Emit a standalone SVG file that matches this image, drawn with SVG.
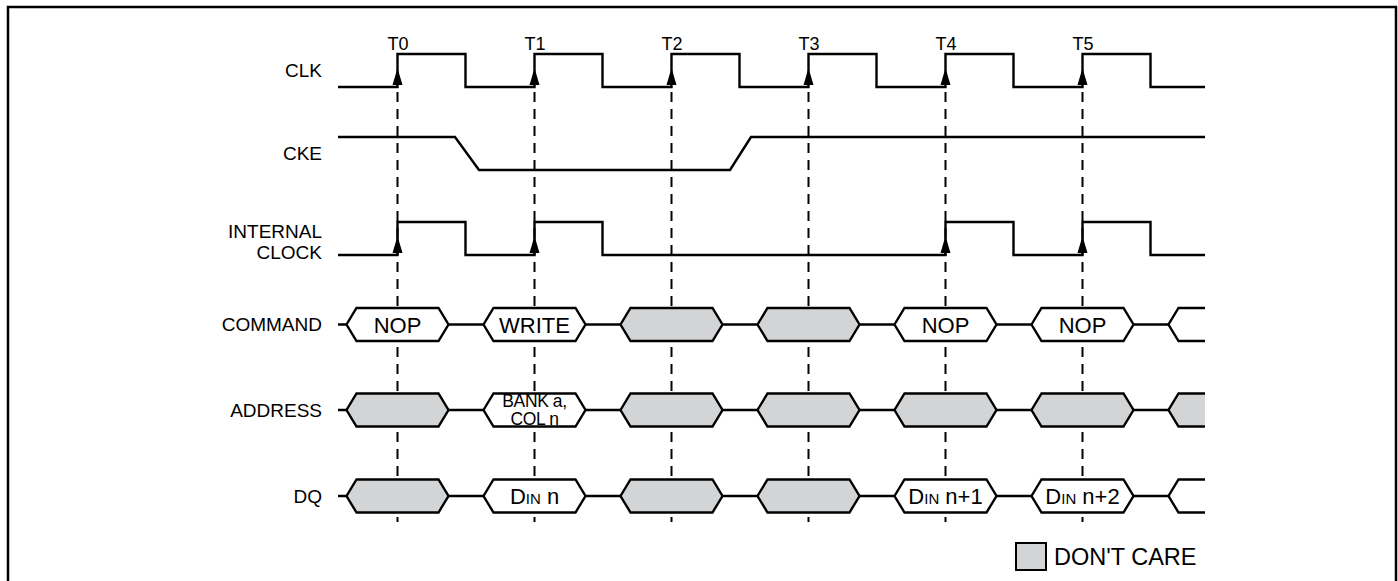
<svg xmlns="http://www.w3.org/2000/svg" width="1398" height="581" viewBox="0 0 1398 581">
<style>
.sig{fill:none;stroke:#000;stroke-width:2.4;stroke-linejoin:miter}
.dash{fill:none;stroke:#000;stroke-width:2;stroke-dasharray:10 7}
.hw{fill:#fff;stroke:#000;stroke-width:2.4;stroke-linejoin:miter}
.hg{fill:#d3d4d6;stroke:#000;stroke-width:2.4;stroke-linejoin:miter}
.lbl{font-family:"Liberation Sans",Arial,sans-serif;font-size:19px;fill:#000;text-anchor:end}
.tl{font-family:"Liberation Sans",Arial,sans-serif;font-size:18px;fill:#000;text-anchor:middle}
.bt{font-family:"Liberation Sans",Arial,sans-serif;font-size:22px;fill:#000;text-anchor:middle}
.sm{font-family:"Liberation Sans",Arial,sans-serif;font-size:17.5px;fill:#000;text-anchor:middle;letter-spacing:-0.4px}
.arr{fill:#000}
</style>
<defs>
<polygon id="hex" points="-51,0 -41,-16.5 41,-16.5 51,0 41,16.5 -41,16.5"/>
<polygon id="up" points="0,68 -5,85 5,85"/>
</defs>
<rect x="8" y="7" width="1388" height="600" fill="#fff" stroke="#000" stroke-width="2.5"/>

<g id="timing-lines">
<line class="dash" x1="397.5" y1="92" x2="397.5" y2="522"/>
<line class="dash" x1="534.5" y1="92" x2="534.5" y2="522"/>
<line class="dash" x1="671.5" y1="92" x2="671.5" y2="522"/>
<line class="dash" x1="808.5" y1="92" x2="808.5" y2="522"/>
<line class="dash" x1="945.5" y1="92" x2="945.5" y2="522"/>
<line class="dash" x1="1082.5" y1="92" x2="1082.5" y2="522"/>
</g>

<g id="clk">
<text class="lbl" x="322" y="77">CLK</text>
<path class="sig" d="M338,87 H397.5 V54 H465.5 V87 H534.5 V54 H602.5 V87 H671.5 V54 H739.5 V87 H808.5 V54 H876.5 V87 H945.5 V54 H1013.5 V87 H1082.5 V54 H1150.5 V87 H1205"/>
<use href="#up" class="arr" x="397.5"/>
<use href="#up" class="arr" x="534.5"/>
<use href="#up" class="arr" x="671.5"/>
<use href="#up" class="arr" x="808.5"/>
<use href="#up" class="arr" x="945.5"/>
<use href="#up" class="arr" x="1082.5"/>
<text class="tl" x="398" y="50">T0</text>
<text class="tl" x="535" y="50">T1</text>
<text class="tl" x="672" y="50">T2</text>
<text class="tl" x="809" y="50">T3</text>
<text class="tl" x="946" y="50">T4</text>
<text class="tl" x="1083" y="50">T5</text>
</g>

<g id="cke">
<text class="lbl" x="322" y="160">CKE</text>
<path class="sig" d="M338,137 H455 L479,170 H730 L751,137 H1205"/>
</g>

<g id="internal-clock">
<text class="lbl" x="322" y="238">INTERNAL</text>
<text class="lbl" x="322" y="259">CLOCK</text>
<path class="sig" d="M338,255 H397.5 V222 H465.5 V255 H534.5 V222 H602.5 V255 H945.5 V222 H1013.5 V255 H1082.5 V222 H1150.5 V255 H1205"/>
<g transform="translate(0,168)">
<use href="#up" class="arr" x="397.5"/>
<use href="#up" class="arr" x="534.5"/>
<use href="#up" class="arr" x="945.5"/>
<use href="#up" class="arr" x="1082.5"/>
</g>
</g>

<g id="command">
<text class="lbl" x="322" y="331">COMMAND</text>
<line class="sig" x1="338" y1="324.5" x2="1170" y2="324.5"/>
<use href="#hex" class="hw" x="397.5" y="324.5"/>
<use href="#hex" class="hw" x="534.5" y="324.5"/>
<use href="#hex" class="hg" x="671.5" y="324.5"/>
<use href="#hex" class="hg" x="808.5" y="324.5"/>
<use href="#hex" class="hw" x="945.5" y="324.5"/>
<use href="#hex" class="hw" x="1082.5" y="324.5"/>
<path d="M1205,308 H1178.5 L1168.5,324.5 L1178.5,341 H1205 Z" fill="#fff"/>
<path class="sig" d="M1205,308 H1178.5 L1168.5,324.5 L1178.5,341 H1205"/>
<text class="bt" x="397.5" y="332.5">NOP</text>
<text class="bt" x="534.5" y="332.5">WRITE</text>
<text class="bt" x="945.5" y="332.5">NOP</text>
<text class="bt" x="1082.5" y="332.5">NOP</text>
</g>

<g id="address">
<text class="lbl" x="322" y="417">ADDRESS</text>
<line class="sig" x1="338" y1="410" x2="1170" y2="410"/>
<use href="#hex" class="hg" x="397.5" y="410"/>
<use href="#hex" class="hw" x="534.5" y="410"/>
<use href="#hex" class="hg" x="671.5" y="410"/>
<use href="#hex" class="hg" x="808.5" y="410"/>
<use href="#hex" class="hg" x="945.5" y="410"/>
<use href="#hex" class="hg" x="1082.5" y="410"/>
<path d="M1205,393.5 H1178.5 L1168.5,410 L1178.5,426.5 H1205 Z" fill="#d3d4d6"/>
<path class="sig" d="M1205,393.5 H1178.5 L1168.5,410 L1178.5,426.5 H1205"/>
<text class="sm" x="534.5" y="407">BANK a,</text>
<text class="sm" x="534.5" y="424.5">COL n</text>
</g>

<g id="dq">
<text class="lbl" x="322" y="503">DQ</text>
<line class="sig" x1="338" y1="496" x2="1170" y2="496"/>
<use href="#hex" class="hg" x="397.5" y="496"/>
<use href="#hex" class="hw" x="534.5" y="496"/>
<use href="#hex" class="hg" x="671.5" y="496"/>
<use href="#hex" class="hg" x="808.5" y="496"/>
<use href="#hex" class="hw" x="945.5" y="496"/>
<use href="#hex" class="hw" x="1082.5" y="496"/>
<path d="M1205,479.5 H1178.5 L1168.5,496 L1178.5,512.5 H1205 Z" fill="#fff"/>
<path class="sig" d="M1205,479.5 H1178.5 L1168.5,496 L1178.5,512.5 H1205"/>
<text class="bt" x="534.5" y="504">D<tspan font-size="15">IN</tspan> n</text>
<text class="bt" x="945.5" y="504">D<tspan font-size="15">IN</tspan> n+1</text>
<text class="bt" x="1082.5" y="504">D<tspan font-size="15">IN</tspan> n+2</text>
</g>

<g id="legend">
<rect x="1016" y="543" width="30" height="27" fill="#d3d4d6" stroke="#000" stroke-width="2"/>
<text x="1054" y="565" font-family="'Liberation Sans',Arial,sans-serif" font-size="23.5" fill="#000">DON'T CARE</text>
</g>
</svg>
